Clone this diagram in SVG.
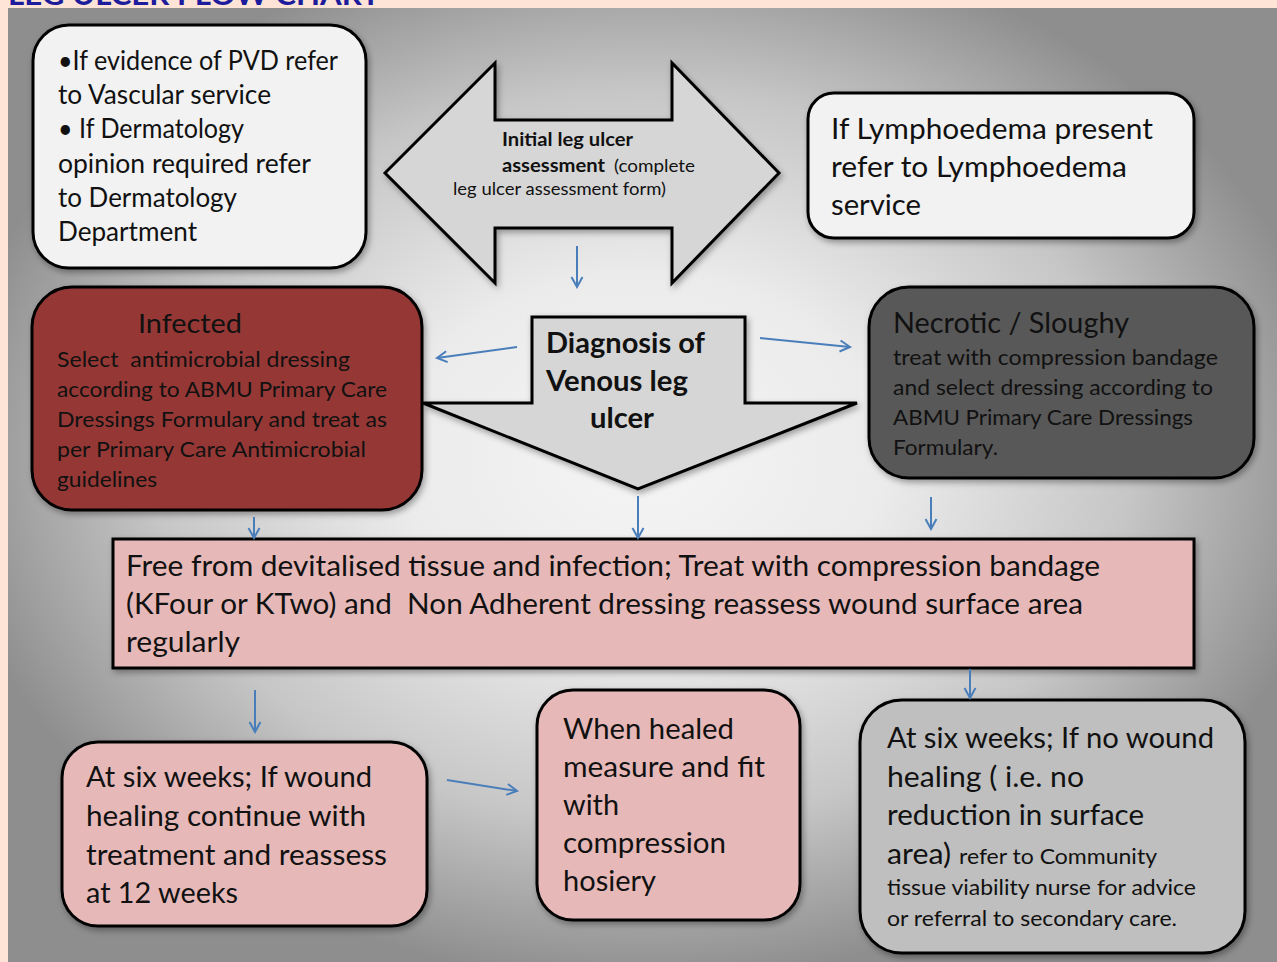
<svg xmlns="http://www.w3.org/2000/svg" width="1277" height="962" viewBox="0 0 1277 962">
<defs>
<radialGradient id="bg" cx="0.5" cy="0.47" r="0.55">
<stop offset="0" stop-color="#f5f5f5"/>
<stop offset="0.35" stop-color="#ebebeb"/>
<stop offset="0.7" stop-color="#c6c6c6"/>
<stop offset="1" stop-color="#8e8e8e"/>
</radialGradient>
<filter id="sh" x="-10%" y="-10%" width="125%" height="125%">
<feDropShadow dx="2" dy="3" stdDeviation="3" flood-color="#000" flood-opacity="0.35"/>
</filter>
<marker id="ah" markerUnits="userSpaceOnUse" markerWidth="14" markerHeight="14" viewBox="0 0 14 14" refX="12" refY="7" orient="auto">
<path d="M2,1.5 L12,7 L2,12.5" fill="none" stroke="#4a7ebb" stroke-width="2"/>
</marker>
</defs>
<style>
text{font-family:Lato,"Liberation Sans",sans-serif;fill:#111;}
.box{stroke:#000;stroke-width:3;filter:url(#sh);}
.light{fill:#f2f2f2;}
.pink{fill:#e6b9b8;}
.shape{fill:#d6d6d6;stroke:#000;stroke-width:3;stroke-linejoin:miter;filter:url(#sh);}
.conn line{stroke:#4a7ebb;stroke-width:2;marker-end:url(#ah);}
.b{font-weight:bold;}
.t26{font-size:26px;}
.t28{font-size:28.5px;}
.t22{font-size:22px;}
.t18{font-size:18px;}
</style>
<rect x="0" y="0" width="1277" height="962" fill="#fde4d6"/>
<text x="8" y="5" font-size="28" class="b" style="fill:#1c1c9c" textLength="372" lengthAdjust="spacingAndGlyphs">LEG ULCER FLOW CHART</text>
<rect x="8" y="8" width="1269" height="954" fill="url(#bg)"/>

<g id="referrals-left">
<rect class="box light" x="33" y="25" width="333" height="243" rx="36"/>
<text class="t26" x="58" y="70" textLength="280" lengthAdjust="spacingAndGlyphs">•If evidence of PVD refer</text>
<text class="t26" x="58" y="104" textLength="213" lengthAdjust="spacingAndGlyphs">to Vascular service</text>
<text class="t26" x="58" y="138" textLength="186" lengthAdjust="spacingAndGlyphs">• If Dermatology</text>
<text class="t26" x="58" y="173" textLength="253" lengthAdjust="spacingAndGlyphs">opinion required refer</text>
<text class="t26" x="58" y="207" textLength="179" lengthAdjust="spacingAndGlyphs">to Dermatology</text>
<text class="t26" x="58" y="241" textLength="139" lengthAdjust="spacingAndGlyphs">Department</text>
</g>

<g id="assessment">
<path class="shape" d="M385,173 L495,63 L495,120 L672,120 L672,63 L779,173 L672,283 L672,228 L495,228 L495,283 Z"/>
<text class="t18 b" x="502" y="146" textLength="131" lengthAdjust="spacingAndGlyphs">Initial leg ulcer</text>
<text class="t18 b" x="502" y="172" textLength="103" lengthAdjust="spacingAndGlyphs">assessment</text>
<text class="t18" x="614" y="172" textLength="81" lengthAdjust="spacingAndGlyphs">(complete</text>
<text class="t18" x="453" y="195" textLength="213" lengthAdjust="spacingAndGlyphs">leg ulcer assessment form)</text>
</g>

<g id="referrals-right">
<rect class="box light" x="808" y="93" width="386" height="145" rx="26"/>
<text class="t28" x="831" y="139" textLength="322" lengthAdjust="spacingAndGlyphs">If Lymphoedema present</text>
<text class="t28" x="831" y="177" textLength="296" lengthAdjust="spacingAndGlyphs">refer to Lymphoedema</text>
<text class="t28" x="831" y="215" textLength="90" lengthAdjust="spacingAndGlyphs">service</text>
</g>

<g id="diagnosis">
<path class="shape" d="M532,317 L745,317 L745,403 L857,403 L638,489 L423,403 L532,403 Z"/>
<text class="b" font-size="28" x="546" y="353" textLength="159" lengthAdjust="spacingAndGlyphs">Diagnosis of</text>
<text class="b" font-size="28" x="546" y="391" textLength="142" lengthAdjust="spacingAndGlyphs">Venous leg</text>
<text class="b" font-size="28" x="590" y="428" textLength="64" lengthAdjust="spacingAndGlyphs">ulcer</text>
</g>

<g id="infected">
<rect class="box" fill="#953735" x="32" y="287" width="390" height="223" rx="40"/>
<text font-size="27.5" x="138" y="333" textLength="104" lengthAdjust="spacingAndGlyphs">Infected</text>
<text class="t22" x="57" y="367" textLength="293" lengthAdjust="spacingAndGlyphs" xml:space="preserve">Select  antimicrobial dressing</text>
<text class="t22" x="57" y="397" textLength="330" lengthAdjust="spacingAndGlyphs">according to ABMU Primary Care</text>
<text class="t22" x="57" y="427" textLength="330" lengthAdjust="spacingAndGlyphs">Dressings Formulary and treat as</text>
<text class="t22" x="57" y="457" textLength="309" lengthAdjust="spacingAndGlyphs">per Primary Care Antimicrobial</text>
<text class="t22" x="57" y="487" textLength="100" lengthAdjust="spacingAndGlyphs">guidelines</text>
</g>

<g id="necrotic">
<rect class="box" fill="#595959" x="869" y="287" width="385" height="191" rx="40"/>
<text font-size="28" x="893" y="333" textLength="236" lengthAdjust="spacingAndGlyphs">Necrotic / Sloughy</text>
<text class="t22" x="893" y="365" textLength="325" lengthAdjust="spacingAndGlyphs">treat with compression bandage</text>
<text class="t22" x="893" y="395" textLength="320" lengthAdjust="spacingAndGlyphs">and select dressing according to</text>
<text class="t22" x="893" y="425" textLength="300" lengthAdjust="spacingAndGlyphs">ABMU Primary Care Dressings</text>
<text class="t22" x="893" y="455" textLength="105" lengthAdjust="spacingAndGlyphs">Formulary.</text>
</g>

<g id="treatment">
<rect class="box pink" x="113" y="539" width="1081" height="129"/>
<text class="t28" x="126" y="576" textLength="974" lengthAdjust="spacingAndGlyphs">Free from devitalised tissue and infection; Treat with compression bandage</text>
<text class="t28" x="126" y="614" textLength="957" lengthAdjust="spacingAndGlyphs" xml:space="preserve">(KFour or KTwo) and  Non Adherent dressing reassess wound surface area</text>
<text class="t28" x="126" y="652" textLength="114" lengthAdjust="spacingAndGlyphs">regularly</text>
</g>

<g id="healing">
<rect class="box pink" x="62" y="742" width="365" height="184" rx="36"/>
<text class="t28" x="86" y="787" textLength="286" lengthAdjust="spacingAndGlyphs">At six weeks; If wound</text>
<text class="t28" x="86" y="826" textLength="280" lengthAdjust="spacingAndGlyphs">healing continue with</text>
<text class="t28" x="86" y="865" textLength="301" lengthAdjust="spacingAndGlyphs">treatment and reassess</text>
<text class="t28" x="86" y="903" textLength="152" lengthAdjust="spacingAndGlyphs">at 12 weeks</text>
</g>

<g id="healed">
<rect class="box pink" x="537" y="690" width="263" height="230" rx="36"/>
<text class="t28" x="563" y="739" textLength="171" lengthAdjust="spacingAndGlyphs">When healed</text>
<text class="t28" x="563" y="777" textLength="202" lengthAdjust="spacingAndGlyphs">measure and fit</text>
<text class="t28" x="563" y="815" textLength="56" lengthAdjust="spacingAndGlyphs">with</text>
<text class="t28" x="563" y="853" textLength="163" lengthAdjust="spacingAndGlyphs">compression</text>
<text class="t28" x="563" y="891" textLength="93" lengthAdjust="spacingAndGlyphs">hosiery</text>
</g>

<g id="no-healing">
<rect class="box" fill="#bfbfbf" x="860" y="700" width="385" height="253" rx="42"/>
<text class="t28" x="887" y="748" textLength="327" lengthAdjust="spacingAndGlyphs">At six weeks; If no wound</text>
<text class="t28" x="887" y="787" textLength="197" lengthAdjust="spacingAndGlyphs">healing ( i.e. no</text>
<text class="t28" x="887" y="825" textLength="257" lengthAdjust="spacingAndGlyphs">reduction in surface</text>
<text class="t28" x="887" y="864" textLength="64" lengthAdjust="spacingAndGlyphs">area)</text>
<text class="t22" x="959" y="864" textLength="198" lengthAdjust="spacingAndGlyphs">refer to Community</text>
<text class="t22" x="887" y="895" textLength="309" lengthAdjust="spacingAndGlyphs">tissue viability nurse for advice</text>
<text class="t22" x="887" y="926" textLength="290" lengthAdjust="spacingAndGlyphs">or referral to secondary care.</text>
</g>

<g id="connectors" class="conn">
<line x1="577" y1="246" x2="577" y2="287"/>
<line x1="517" y1="347" x2="437" y2="358"/>
<line x1="760" y1="338" x2="850" y2="347"/>
<line x1="254" y1="517" x2="254" y2="538"/>
<line x1="638" y1="496" x2="638" y2="538"/>
<line x1="931" y1="497" x2="931" y2="529"/>
<line x1="970" y1="669" x2="970" y2="698"/>
<line x1="255" y1="690" x2="255" y2="732"/>
<line x1="447" y1="780" x2="517" y2="791"/>
</g>
</svg>
